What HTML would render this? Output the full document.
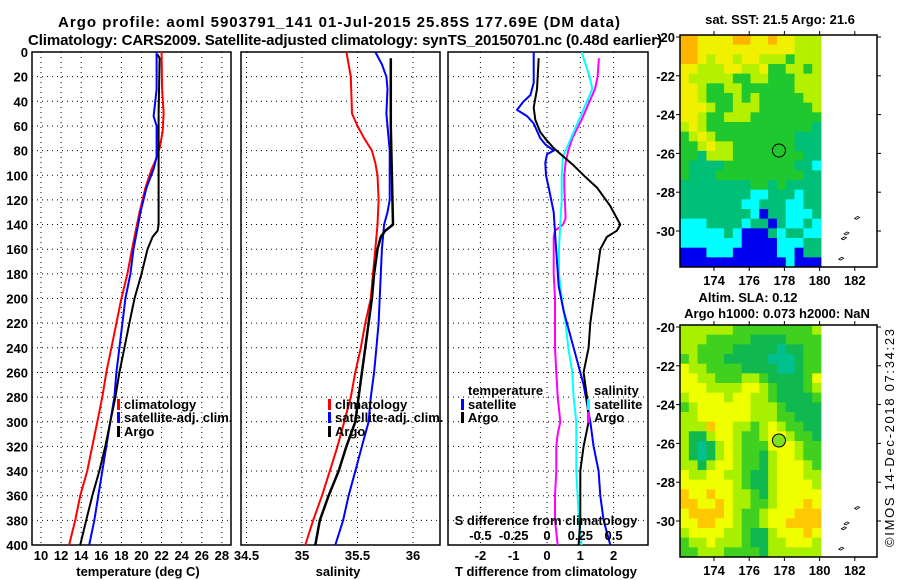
<!DOCTYPE html>
<html><head><meta charset="utf-8">
<style>
html,body{margin:0;padding:0;background:#fff;}
svg{display:block;font-family:"Liberation Sans",Arial,sans-serif;font-weight:bold;}
</style></head>
<body>
<svg id="chart" width="900" height="580" viewBox="0 0 900 580" xmlns="http://www.w3.org/2000/svg">
<text x="58" y="27" font-size="15" textLength="562">Argo profile: aoml 5903791_141 01-Jul-2015 25.85S 177.69E (DM data)</text>
<text x="28" y="45" font-size="15" textLength="634">Climatology: CARS2009. Satellite-adjusted climatology: synTS_20150701.nc (0.48d earlier)</text>
<g id="p1"></g>
<g id="p2"></g>
<g id="p3"></g>
<g id="m1"></g>
<g id="m2"></g>
<text transform="translate(894,547) rotate(-90)" font-size="13" font-weight="normal" textLength="218">©IMOS 14-Dec-2018 07:34:23</text>
</svg>
<script>
// ---------- data ----------
const depthTicks=[0,20,40,60,80,100,120,140,160,180,200,220,240,260,280,300,320,340,360,380,400];
const tempTicks=[10,12,14,16,18,20,22,24,26,28];
const salTicks=[34.5,35,35.5,36];
const salTickLabels=["34.5","35","35.5","36"];
const tdTicks=[-2,-1,0,1,2];
const sdTicks=[-0.5,-0.25,0,0.25,0.5];
const sdTickLabels=["-0.5","-0.25","0","0.25","0.5"];

const climTDepth=[0,30,50,65,78,88,95,110,130,160,180,200,220,240,260,280,300,340,360,380,400];
const climT=[22.0,22.05,22.2,22.1,21.8,21.4,21.0,20.4,19.8,19.05,18.6,18.0,17.5,17.0,16.5,16.1,15.6,14.6,13.9,13.4,12.8];
const satTDepth=[0,30,45,52,60,85,95,110,130,160,180,200,220,240,260,280,300,320,340,360,380,400];
const satT=[21.5,21.5,21.3,21.2,21.5,21.5,21.2,20.5,19.9,19.2,18.9,18.4,18.1,17.8,17.5,17.3,16.9,16.5,16.1,15.7,15.3,14.8];
const argoTDepth=[2,5,50,140,145,150,160,180,200,220,240,260,280,300,320,340,360,380,400];
const argoT=[21.6,21.8,21.7,21.7,21.6,21.1,20.6,20.0,19.3,18.8,18.3,17.8,17.4,16.9,16.4,15.8,15.1,14.5,13.9];

const climSDepth=[0,10,20,50,60,70,80,90,100,120,140,160,180,200,220,240,260,280,300,320,340,360,380,400];
const climS=[35.40,35.42,35.44,35.45,35.50,35.56,35.63,35.66,35.68,35.69,35.68,35.66,35.64,35.62,35.57,35.53,35.48,35.44,35.38,35.32,35.25,35.18,35.10,35.03];
const satSDepth=[0,10,20,30,50,60,80,100,120,130,140,160,180,200,220,240,260,280,300,320,340,360,380,400];
const satS=[35.66,35.72,35.76,35.77,35.76,35.77,35.79,35.79,35.79,35.77,35.74,35.72,35.71,35.70,35.69,35.67,35.65,35.62,35.60,35.54,35.48,35.42,35.37,35.30];
const argoSDepth=[5,60,140,145,150,160,180,200,220,240,260,280,300,320,340,360,380,400];
const argoS=[35.80,35.80,35.82,35.75,35.71,35.68,35.65,35.63,35.60,35.57,35.54,35.51,35.48,35.40,35.33,35.24,35.16,35.12];

const satTdDepth=[0,10,25,35,40,47,52,58,70,75,80,83,90,100,110,130,150,170,190,210,230,250,270,285,300,320,340,360,380,400];
const satTd=[-0.4,-0.4,-0.4,-0.5,-0.7,-0.9,-0.6,-0.4,-0.2,-0.05,0.2,0.0,-0.05,-0.03,0.05,0.2,0.25,0.3,0.35,0.5,0.7,0.9,1.1,1.2,1.3,1.4,1.55,1.6,1.7,1.9];
const argoTdDepth=[5,30,45,55,65,72,78,85,92,100,110,125,140,145,150,160,180,200,220,240,260,280,300,320,340,360,380,400];
const argoTd=[-0.25,-0.3,-0.4,-0.35,-0.2,0.0,0.2,0.5,0.8,1.1,1.5,1.9,2.2,2.1,1.8,1.6,1.5,1.4,1.3,1.25,1.1,1.2,1.25,1.1,1.0,1.0,1.0,0.95];
const satSdDepth=[0,20,30,40,60,75,85,100,120,140,160,180,200,220,240,260,280,300,320,340,360,380,400];
const satSd=[0.26,0.32,0.34,0.30,0.22,0.16,0.12,0.11,0.11,0.10,0.09,0.09,0.11,0.14,0.16,0.19,0.20,0.22,0.22,0.22,0.23,0.24,0.26];
const argoSdDepth=[5,20,30,40,55,70,80,90,100,110,135,140,145,150,180,200,220,240,260,280,300,310,320,340,360,380,400];
const argoSd=[0.39,0.38,0.36,0.32,0.26,0.19,0.16,0.14,0.13,0.13,0.14,0.12,0.06,0.05,0.05,0.06,0.06,0.06,0.07,0.08,0.10,0.08,0.07,0.07,0.06,0.06,0.08];

const lonTicks=[174,176,178,180,182];
const latTicks=[-20,-22,-24,-26,-28,-30];
const argoLon=177.69, argoLat=-25.85;
const sstGrid=[
"OOYYYYOOYYOYYLLL","OOYYYYYYYYYYYLLL","OOYLYYLYYLLLGLLL","YYLLLYYLLYGGLLGL",
"YLLLLLGGLLGGGLLL","YYLGGLLGGGGGGLLL","YYLGGGLGLGGGGGLL","YYYLGGLLLGGGGGGL",
"YYLGGLLLGGGGGGGG","LYLGGGGGGGGGGGGT","GLYLGGGGGGGGGTTT","GGLYLLGGGGGGGTTT",
"GGTLLLGGGGGGGGTT","GTTTTGGGGGGGGTTC","GTTTGGGGGGGGGGTT","TTTTTTTTGGTGTTTT",
"TTTTTTTTCCTTTCTT","TTTTTTTCCTTTCCTT","TTTTTTTTCBTTCCCT","CCCTTTTCTTBTCCTC",
"CCCCCTCBBBTCTTCC","CCCCCCCBBBBCCCTT","BBBCCCBBBBBCCBTT","BBBBBBBBBBBBCBBB"];
const slaGrid=[
"LLLLLLGGGGGGGGGL","LLLGGGGGDDDDGGGG","LLGGGGDDDDDTDDGG","GLGGGDDDDDTTTDGG",
"YLLGGGGDDDDTTDGG","YYLLGGGLLGDDDDGY","YYYLLLLYYLGDDDGL","LYYYYLYYLLGDDDDG",
"GLYYYYYYLLLGDDDD","LLYYYYYYLLLGGDDD","LLLOYYLLGLYLGGDD","LDDLYYLGGLYYLGGD",
"LDTDLYLGGGYYYLGG","LDTDLYLGGDLYYLGG","LLDLYYLGGDLYYYLG","YLLYYLLGDDLYYYLL",
"YYYYYYLGDDLYYYYL","OYYOYYLLGDLYYYYY","OOYYOYLLGGLYYYOY","YOOOOYLGGLYYYOOO",
"YYOOYYLGGLYYOOOO","LYYYYLLGDDLYYYOY","GLLYLLLGDDLLYYYL","GGLLLGGGGDLLLLLL"];
const sstColors={O:"#ffb400",Y:"#f0f000",L:"#b4f000",G:"#20c830",T:"#00c078",C:"#00ffff",B:"#0000f0"};
const slaColors={O:"#ffc800",Y:"#f0ff00",L:"#a8f000",G:"#40d020",D:"#10b850",T:"#00c090"};

// ---------- drawing ----------
const NS="http://www.w3.org/2000/svg";
function mk(parent,tag,attrs,text){const e=document.createElementNS(NS,tag);for(const k in attrs)e.setAttribute(k,attrs[k]);if(text!==undefined)e.textContent=text;parent.appendChild(e);return e;}
const Y0=52,Y1=545;
function yD(d){return Y0+d*(Y1-Y0)/400;}

function panel(g,x0,x1,xs,ticks,labels){
  mk(g,'rect',{x:x0,y:Y0,width:x1-x0,height:Y1-Y0,fill:'#fff'});
  depthTicks.forEach(d=>{if(d>0&&d<400)mk(g,'line',{x1:x0,x2:x1,y1:yD(d),y2:yD(d),stroke:'#000','stroke-width':1,'stroke-dasharray':'1,4'});});
  ticks.forEach((t,i)=>{const x=xs(t);if(x>x0+1&&x<x1-1)mk(g,'line',{x1:x,x2:x,y1:Y0,y2:Y1,stroke:'#000','stroke-width':1,'stroke-dasharray':'1,4'});
    const tl=mk(g,'text',{x:x,y:560,'font-size':13,'text-anchor':'middle'},labels[i]);
    
    });
  mk(g,'rect',{x:x0,y:Y0,width:x1-x0,height:Y1-Y0,fill:'none',stroke:'#000','stroke-width':1.5});
}
function series(g,xs,depths,vals,color,w,name){
  const pts=depths.map((d,i)=>xs(vals[i]).toFixed(1)+','+yD(d).toFixed(1)).join(' ');
  const p=mk(g,'polyline',{points:pts,fill:'none',stroke:color,'stroke-width':w,'stroke-linejoin':'round'});
  
  
}
function legend(g,x,y,color,label,name){
  if(color)mk(g,'rect',{x:x,y:y-9,width:3,height:11,fill:color});
  const t=mk(g,'text',{x:x+7,y:y+1,'font-size':13},label);
  
  
}

// panel 1 temperature
const p1=document.getElementById('p1');
const xT=t=>41+(t-10)*10.05;
panel(p1,32,231,xT,tempTicks,tempTicks.map(String));
depthTicks.forEach(d=>{const t=mk(p1,'text',{x:28,y:yD(d)+5,'font-size':13,'text-anchor':'end'},String(d));
  
  });
series(p1,xT,climTDepth,climT,'#ff0000',2,'climatology-temp-line');
series(p1,xT,satTDepth,satT,'#0000ff',2,'satellite-temp-line');
series(p1,xT,argoTDepth,argoT,'#000000',2,'argo-temp-line');
mk(p1,'text',{x:138,y:576,'font-size':13,'text-anchor':'middle'},'temperature (deg C)');
legend(p1,117,408,'#ff0000','climatology','legend-climatology');
legend(p1,117,421,'#0000ff','satellite-adj. clim.','legend-satellite');
legend(p1,117,435,'#000000','Argo','legend-argo');

// panel 2 salinity
const p2=document.getElementById('p2');
const xS=s=>302+(s-35)*111;
panel(p2,241,440,xS,salTicks,salTickLabels);
series(p2,xS,climSDepth,climS,'#ff0000',2,'climatology-sal-line');
series(p2,xS,satSDepth,satS,'#0000ff',2,'satellite-sal-line');
series(p2,xS,argoSDepth,argoS,'#000000',2.5,'argo-sal-line');
mk(p2,'text',{x:338,y:576,'font-size':13,'text-anchor':'middle'},'salinity');
legend(p2,328,408,'#ff0000','climatology','legend-climatology-sal');
legend(p2,328,421,'#0000ff','satellite-adj. clim.','legend-satellite-sal');
legend(p2,328,435,'#000000','Argo','legend-argo-sal');

// panel 3 differences
const p3=document.getElementById('p3');
const xTd=t=>547+t*33.3;
const xSd=s=>547+s*133.2;
panel(p3,448,648,xTd,tdTicks,tdTicks.map(String));
series(p3,xSd,argoSdDepth,argoSd,'#ff00ff',2,'argo-sal-diff-line');
series(p3,xSd,satSdDepth,satSd,'#00ffff',2,'satellite-sal-diff-line');
series(p3,xTd,satTdDepth,satTd,'#0000ff',2,'satellite-temp-diff-line');
series(p3,xTd,argoTdDepth,argoTd,'#000000',2,'argo-temp-diff-line');
mk(p3,'text',{x:546,y:576,'font-size':13,'text-anchor':'middle'},'T difference from climatology');
mk(p3,'text',{x:546,y:525,'font-size':13,'text-anchor':'middle'},'S difference from climatology');
sdTicks.forEach((s,i)=>{const t=mk(p3,'text',{x:xSd(s),y:540,'font-size':13,'text-anchor':'middle'},sdTickLabels[i]);
  
  });
legend(p3,461,394,null,'temperature','legend-temperature-header');
legend(p3,461,408,'#0000ff','satellite','legend-temp-satellite');
legend(p3,461,421,'#000000','Argo','legend-temp-argo');
legend(p3,587,394,null,'salinity','legend-salinity-header');
legend(p3,587,408,'#00ffff','satellite','legend-sal-satellite');
legend(p3,587,421,'#ff00ff','Argo','legend-sal-argo');

// maps
function map(g,top,grid,colors,titles,dotFill){
  const fx0=680,fx1=877,dx1=821;
  const lonX=l=>714+(l-174)*17.6;
  const latY=a=>top+2+(-20-a)*19.4;
  const cw=(dx1-fx0)/16, ch=232/24;
  grid.forEach((row,r)=>{for(let c=0;c<16;c++){
    mk(g,'rect',{x:(fx0+c*cw).toFixed(2),y:(top+r*ch).toFixed(2),width:(cw+0.4).toFixed(2),height:(ch+0.4).toFixed(2),fill:colors[row[c]]});}});
  mk(g,'rect',{x:fx0,y:top,width:fx1-fx0,height:232,fill:'none',stroke:'#000','stroke-width':1.5});
  latTicks.forEach(a=>{const y=latY(a);
    mk(g,'line',{x1:fx0-4,x2:fx0,y1:y,y2:y,stroke:'#000'});
    mk(g,'line',{x1:fx1,x2:fx1+4,y1:y,y2:y,stroke:'#000'});
    const t=mk(g,'text',{x:675,y:y+5,'font-size':13,'text-anchor':'end'},String(a));
    
    });
  lonTicks.forEach(l=>{const x=lonX(l);
    mk(g,'line',{x1:x,x2:x,y1:top-4,y2:top,stroke:'#000'});
    mk(g,'line',{x1:x,x2:x,y1:top+232,y2:top+236,stroke:'#000'});
    const t=mk(g,'text',{x:x,y:top+250,'font-size':13,'text-anchor':'middle'},String(l));
    
    });
  [[182.1,-29.3],[181.5,-30.1],[181.35,-30.35],[181.2,-31.4]].forEach(p=>{
    mk(g,'path',{d:`M${lonX(p[0])-2},${latY(p[1])+1} l3,-2 l2,1 l-3,2 z`,fill:'none',stroke:'#000','stroke-width':0.8});});
  const c=mk(g,'circle',{cx:lonX(argoLon),cy:latY(argoLat),r:6.5,fill:dotFill,stroke:'#000','stroke-width':1});
  
  
  titles.forEach(tt=>{const t=mk(g,'text',{x:tt[1],y:tt[2],'font-size':13,'text-anchor':'middle'},tt[0]);
    
    });
}
map(document.getElementById('m1'),35,sstGrid,sstColors,[['sat. SST: 21.5 Argo: 21.6',780,24]],'none');
map(document.getElementById('m2'),325,slaGrid,slaColors,[['Altim. SLA: 0.12',748,302],['Argo h1000: 0.073 h2000: NaN',777,318]],'#80e020');
</script>
</body></html>
